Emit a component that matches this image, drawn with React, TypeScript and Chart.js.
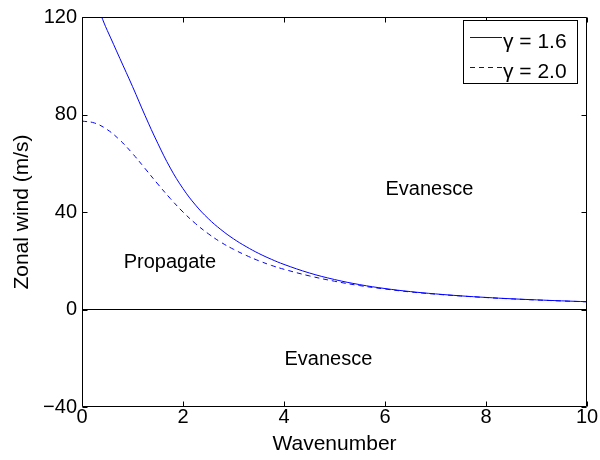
import React, { useEffect, useRef } from "react";
import { Chart, registerables } from "chart.js";

Chart.register(...registerables);

const wavenumber = [0, 0.25, 0.5, 0.75, 1, 1.25, 1.5, 1.75, 2, 2.25, 2.5, 2.75, 3, 3.25, 3.5, 3.75, 4, 4.5, 5, 5.5, 6, 6.5, 7, 7.5, 8, 8.5, 9, 9.5, 10];
const windGamma16 = [130, 125.5, 114.5, 103, 91.5, 79.5, 68.2, 58.0, 49.6, 42.8, 37.3, 32.8, 29.0, 25.8, 23.0, 20.6, 18.5, 15.0, 12.3, 10.2, 8.6, 7.35, 6.4, 5.6, 4.95, 4.4, 3.95, 3.55, 3.2];
const windGamma20 = [77.3, 76.5, 73.8, 69.5, 64.0, 57.8, 51.5, 45.5, 40.0, 35.2, 31.1, 27.6, 24.7, 22.2, 20.0, 18.1, 16.5, 13.8, 11.6, 9.8, 8.4, 7.2, 6.3, 5.55, 4.9, 4.35, 3.9, 3.5, 3.15];
const seriesLabels = ["\u03b3 = 1.6", "\u03b3 = 2.0"];
const xTicks = [0, 2, 4, 6, 8, 10];
const yTicks = [-40, 0, 40, 80, 120];
const regionLabels = ["Propagate", "Evanesce", "Evanesce"];
const regionX = [1.74, 6.88, 4.88];
const regionY = [17.0, 47.0, -22.7];

const FONT = '"Liberation Sans", Arial, Helvetica, sans-serif';

const framePlugin = {
  id: "frameTicks",
  afterDatasetsDraw(chart: any) {
    const { ctx, chartArea, scales } = chart;
    const { left, right, top, bottom } = chartArea;
    const xs = scales.x;
    const ys = scales.y;
    ctx.save();
    ctx.fillStyle = "#000";
    ctx.font = "20px " + FONT;
    ctx.textAlign = "center";
    ctx.textBaseline = "alphabetic";
    regionLabels.forEach((t, i) => {
      ctx.fillText(t, xs.getPixelForValue(regionX[i]), ys.getPixelForValue(regionY[i]));
    });
    ctx.strokeStyle = "#000";
    ctx.lineWidth = 1;
    const L = Math.round(left) + 0.5;
    const R = Math.round(right) - 0.5;
    const T = Math.round(top) + 0.5;
    const B = Math.round(bottom) - 0.5;
    ctx.beginPath();
    ctx.rect(L, T, R - L, B - T);
    ctx.stroke();
    const tl = 5;
    ctx.beginPath();
    xTicks.forEach((v) => {
      const px = Math.round(xs.getPixelForValue(v)) + 0.5;
      ctx.moveTo(px, B);
      ctx.lineTo(px, B - tl);
      ctx.moveTo(px, T);
      ctx.lineTo(px, T + tl);
    });
    yTicks.forEach((v) => {
      const py = Math.round(ys.getPixelForValue(v)) + 0.5;
      ctx.moveTo(L, py);
      ctx.lineTo(L + tl, py);
      ctx.moveTo(R, py);
      ctx.lineTo(R - tl, py);
    });
    ctx.stroke();
    const bx = 463.5, by = 20.5, bw = 114, bh = 63;
    ctx.fillStyle = "#fff";
    ctx.fillRect(bx, by, bw, bh);
    ctx.strokeStyle = "#000";
    ctx.strokeRect(bx, by, bw, bh);
    const rows = [37.5, 67.5];
    const dashes = [[], [5, 4]];
    chart.data.datasets.slice(0, 2).forEach((ds: any, i: number) => {
      ctx.strokeStyle = ds.borderColor;
      ctx.setLineDash(dashes[i]);
      ctx.beginPath();
      ctx.moveTo(470, rows[i]);
      ctx.lineTo(502, rows[i]);
      ctx.stroke();
      ctx.setLineDash([]);
      ctx.fillStyle = "#000";
      ctx.textAlign = "left";
      ctx.font = "21px " + FONT;
      ctx.fillText(seriesLabels[i], 503, rows[i] + 10);
    });
    ctx.restore();
  },
};

export default function App() {
  const ref = useRef<HTMLCanvasElement>(null);
  useEffect(() => {
    document.body.style.margin = "0";
    const canvas = ref.current;
    if (!canvas) return;
    Chart.defaults.font.family = FONT;
    Chart.defaults.color = "#000";
    const chart = new Chart(canvas, {
      type: "line",
      data: {
        datasets: [
          {
            label: seriesLabels[0],
            data: wavenumber.map((k, i) => ({ x: k, y: windGamma16[i] })),
            borderColor: "#0000ff",
            borderWidth: 1,
            pointRadius: 0,
            tension: 0.4,
            fill: false,
          },
          {
            label: seriesLabels[1],
            data: wavenumber.map((k, i) => ({ x: k, y: windGamma20[i] })),
            borderColor: "#0000ff",
            borderWidth: 1,
            borderDash: [5, 4],
            pointRadius: 0,
            tension: 0.4,
            fill: false,
          },
          {
            label: "zero",
            data: [
              { x: 0, y: 0 },
              { x: 10, y: 0 },
            ],
            borderColor: "#000",
            borderWidth: 1,
            pointRadius: 0,
            fill: false,
          },
        ],
      },
      options: {
        responsive: false,
        animation: false,
        events: [],
        layout: { padding: { top: 12, right: 13, left: 0, bottom: 0 } },
        plugins: { legend: { display: false }, tooltip: { enabled: false } },
        scales: {
          x: {
            type: "linear",
            min: 0,
            max: 10,
            afterBuildTicks: (s: any) => {
              s.ticks = xTicks.map((v) => ({ value: v }));
            },
            afterFit: (s: any) => {
              s.height = 53;
            },
            grid: { display: false, drawTicks: false },
            border: { display: false },
            ticks: { font: { size: 20 }, color: "#000", padding: -2, maxRotation: 0 },
            title: { display: true, text: "Wavenumber", font: { size: 21 }, color: "#000", padding: { top: 0, bottom: 3 } },
          },
          y: {
            type: "linear",
            min: -40,
            max: 120,
            afterBuildTicks: (s: any) => {
              s.ticks = yTicks.map((v) => ({ value: v }));
            },
            afterFit: (s: any) => {
              s.width = 82;
            },
            grid: { display: false, drawTicks: false },
            border: { display: false },
            ticks: {
              font: { size: 20 },
              color: "#000",
              padding: 5,
              callback: (v: any) => (Number(v) < 0 ? "\u2212" + Math.abs(Number(v)) : String(v)),
            },
            title: { display: true, text: "Zonal wind (m/s)", font: { size: 21 }, color: "#000", padding: { top: 10, bottom: 0 } },
          },
        },
      },
      plugins: [framePlugin],
    } as any);
    return () => chart.destroy();
  }, []);
  return <canvas ref={ref} width={600} height={460} style={{ display: "block" }} />;
}
